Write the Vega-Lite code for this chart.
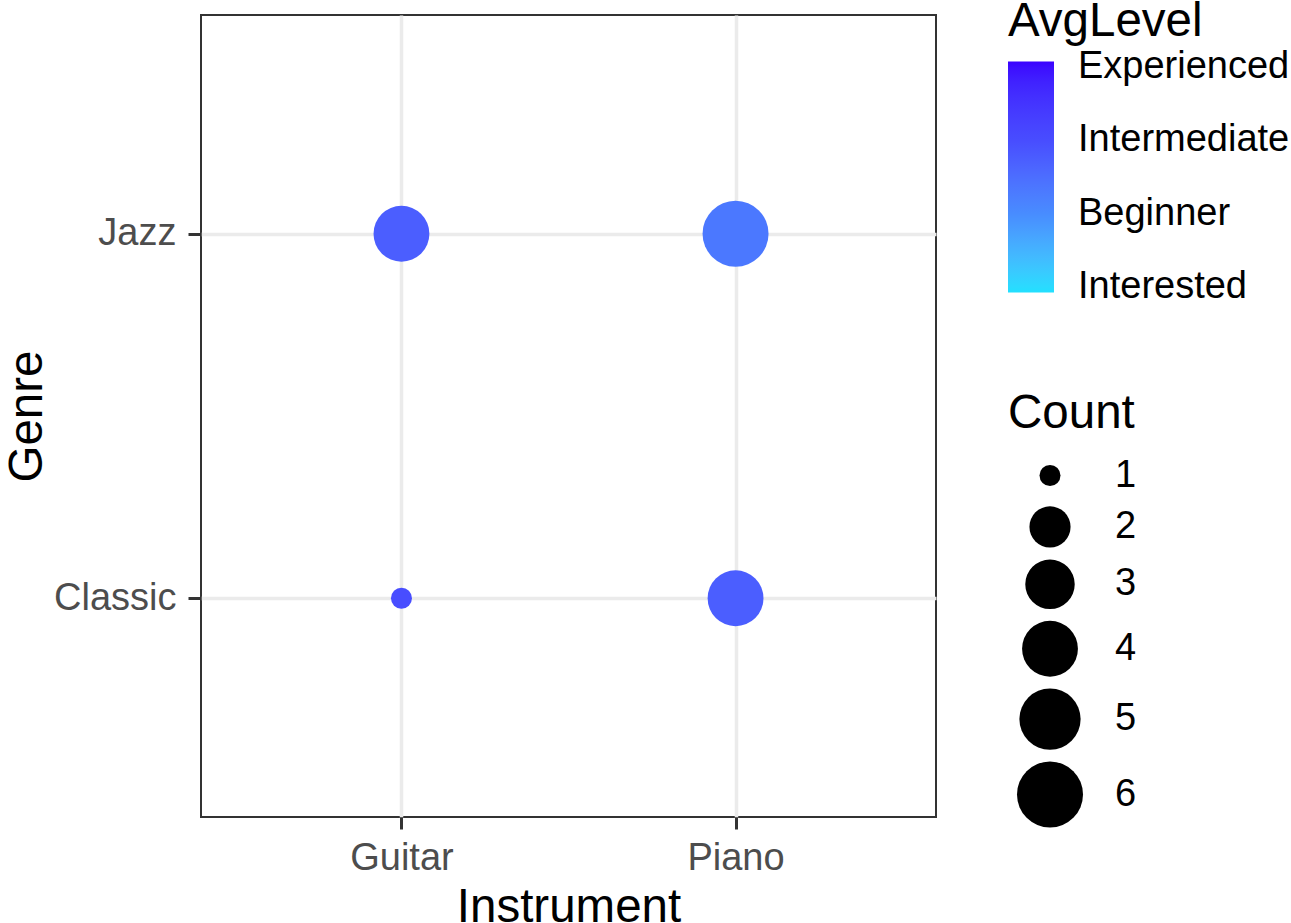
{
  "$schema": "https://vega.github.io/schema/vega-lite/v6.json",
  "width": 735,
  "height": 802,
  "autosize": {"type": "none"},
  "padding": {"left": 201, "top": 15, "right": 355, "bottom": 106},
  "background": "white",
  "data": {"values": [
    {"Instrument": "Guitar", "Genre": "Jazz", "Count": 4, "AvgLevel": 2.75},
    {"Instrument": "Piano", "Genre": "Jazz", "Count": 6, "AvgLevel": 2.333},
    {"Instrument": "Guitar", "Genre": "Classic", "Count": 1, "AvgLevel": 3},
    {"Instrument": "Piano", "Genre": "Classic", "Count": 4, "AvgLevel": 2.75}
  ]},
  "mark": {"type": "point", "filled": true, "opacity": 1, "shape": "circle"},
  "encoding": {
    "x": {
      "field": "Instrument", "type": "nominal",
      "scale": {"type": "point", "padding": 0.6},
      "axis": {"title": "Instrument", "labelAngle": 0, "tickSize": 12, "labelPadding": 10,
               "titleY": 104, "titleBaseline": "alphabetic"}
    },
    "y": {
      "field": "Genre", "type": "nominal", "sort": ["Jazz", "Classic"],
      "scale": {"type": "point", "padding": 0.6},
      "axis": {"title": "Genre", "tickSize": 13, "labelPadding": 12,
               "titleX": -160, "titleY": 401, "titleBaseline": "alphabetic", "titleAngle": -90, "titleAlign": "center"}
    },
    "size": {
      "field": "Count", "type": "quantitative",
      "scale": {"domain": [1, 2, 3, 4, 5, 6], "range": [441, 1691, 2446, 3120, 3751, 4356]},
      "legend": {"title": "Count", "orient": "none", "legendX": 807, "legendY": 375,
                 "values": [1, 2, 3, 4, 5, 6], "symbolFillColor": "black", "symbolStrokeWidth": 0,
                 "symbolOpacity": 1, "symbolType": "circle", "symbolOffset": 9, "labelOffset": 32,
                 "rowPadding": 11.4, "titlePadding": 19}
    },
    "color": {
      "field": "AvgLevel", "type": "quantitative",
      "scale": {"domain": [0.918, 2, 3, 4.082], "range": ["#21E0FF", "#488CFF", "#484DFF", "#3B00FF"], "interpolate": "lab"},
      "legend": {"title": "AvgLevel", "titleLimit": 400, "orient": "none", "legendX": 807, "legendY": -17, "direction": "vertical",
                 "gradientLength": 231, "gradientThickness": 46, "gradientStrokeWidth": 0,
                 "values": [1, 2, 3, 4], "labelOverlap": false, "labelLimit": 400,
                 "labelExpr": "datum.value == 1 ? 'Interested' : datum.value == 2 ? 'Beginner' : datum.value == 3 ? 'Intermediate' : 'Experienced'",
                 "labelOffset": 24, "titlePadding": 16}
    }
  },
  "config": {
    "font": "Liberation Sans",
    "view": {"stroke": "#333333", "strokeWidth": 2},
    "axis": {
      "labelFont": "Liberation Sans", "titleFont": "Liberation Sans",
      "labelFontSize": 38, "titleFontSize": 47.5, "titleFontWeight": "normal",
      "labelColor": "#4D4D4D", "titleColor": "black",
      "tickColor": "#333333", "tickWidth": 3,
      "domain": false, "grid": true, "gridColor": "#EBEBEB", "gridWidth": 3.5
    },
    "legend": {
      "labelFont": "Liberation Sans", "titleFont": "Liberation Sans",
      "labelFontSize": 38, "titleFontSize": 47.5, "titleFontWeight": "normal",
      "labelColor": "black", "titleColor": "black", "padding": 0
    }
  }
}
